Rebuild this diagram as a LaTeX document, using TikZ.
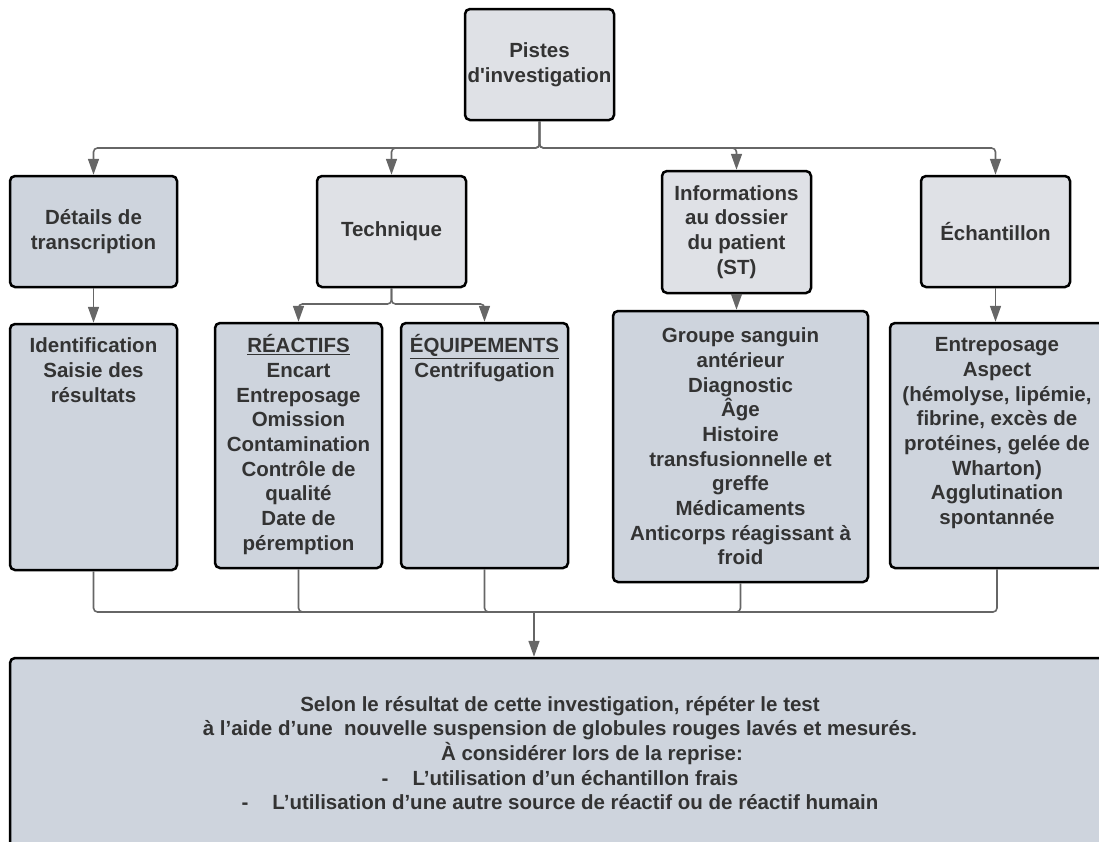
\documentclass[tikz,border=0pt]{standalone}
\usepackage{fontspec}
\setmainfont{Liberation Sans}[Ligatures=TeXOff]
\usetikzlibrary{arrows.meta}

\definecolor{boxlight}{HTML}{DFE1E6}
\definecolor{boxdark}{HTML}{CED4DD}
\definecolor{inkgray}{HTML}{333333}
\definecolor{wiregray}{HTML}{666666}

% text hung from the top of a box
\newcommand{\toplist}[3]{\parbox[c][#2pt][t]{#1pt}{\centering\strut #3}}

\begin{document}
\begin{tikzpicture}[x=1pt,y=-1pt,>={Triangle[width=11pt,length=16pt]},
    box/.style={draw=black,line width=2.5pt,rounded corners=5pt,inner sep=0pt,align=center,
      text=inkgray,font=\fontsize{20.5}{24.7}\selectfont\bfseries},
    headbox/.style={box,fill=boxlight,minimum width=149pt,minimum height=111pt},
    listbox/.style={box,fill=boxdark,minimum width=167pt,minimum height=245pt},
    wire/.style={draw=wiregray,line width=1.6pt,rounded corners=4pt}]
    \useasboundingbox (0,0) rectangle (1099,841);
    \clip (0,0) rectangle (1099,841);

    % first two levels
    \node[headbox] (pistes) at (539.5,64.5) {Pistes\\d'investigation};
    \node[headbox,fill=boxdark,minimum width=167pt] (detail) at (93.5,231.5) {Détails de\\transcription};
    \node[headbox] (tech) at (391.5,231.5) {Technique};
    \node[headbox,minimum height=122pt] (info) at (736.5,232) {Informations\\au dossier\\du patient\\(ST)};
    \node[headbox] (echant) at (995.5,231.5) {Échantillon};

    % lists
    \node[listbox,minimum height=246pt] (ident) at (93.5,447)
      {\toplist{160}{223}{Identification\\Saisie des\\résultats}};
    \node[listbox] (reactifs) at (298.5,445.5)
      {\toplist{160}{222}{\underline{RÉACTIFS}\\Encart\\Entreposage\\Omission\\Contamination\\Contrôle de\\qualité\\Date de\\péremption}};
    \node[listbox] (equip) at (484.5,445.5)
      {\toplist{160}{222}{\underline{ÉQUIPEMENTS}\\Centrifugation}};
    \node[listbox,minimum width=255pt,minimum height=271pt] (groupe) at (740.5,446.5)
      {Groupe sanguin\\antérieur\\Diagnostic\\Âge\\Histoire\\transfusionnelle et\\greffe\\Médicaments\\Anticorps réagissant à\\froid};
    \node[listbox,minimum width=214pt] (entrepo) at (997,445.5)
      {\toplist{206}{222}{Entreposage\\Aspect\\(hémolyse, lipémie,\\fibrine, excès de\\protéines, gelée de\\Wharton)\\Agglutination\\spontannée}};

    % conclusion, runs off the page
    \node[listbox,minimum width=1100pt,minimum height=190pt] (final) at (560,753)
      {\raisebox{3pt}{\parbox{1090pt}{\centering
       Selon le résultat de cette investigation, répéter le test\\
       à l’aide d’une \ nouvelle suspension de globules rouges lavés et mesurés.\\
       \hspace*{64pt}À considérer lors de la reprise:\\
       -\hspace{24pt}L’utilisation d’un échantillon frais\\
       -\hspace{24pt}L’utilisation d’une autre source de réactif ou de réactif humain}}};

    \coordinate (split) at (539.5,148);
    \coordinate (techsplit) at (391.5,304);
    \coordinate (merge) at (534,612);

    \foreach \b in {detail,tech,info,echant}
      \draw[wire,->] (pistes.south) -- (split) -| (\b.north);
    \foreach \b in {reactifs,equip}
      \draw[wire,->] (tech.south) -- (techsplit) -| (\b.north);
    \draw[wire,->] (detail.south) -- (ident.north);
    \draw[wire,->] (info.south) -- (info.south |- groupe.north);
    \draw[wire,->] (echant.south) -- (echant.south |- entrepo.north);

    \foreach \b in {ident,reactifs,equip,groupe,entrepo}
      \draw[wire] (\b.south) |- (merge);
    \draw[wire,->] (merge) -- (merge |- final.north);
\end{tikzpicture}
\end{document}
